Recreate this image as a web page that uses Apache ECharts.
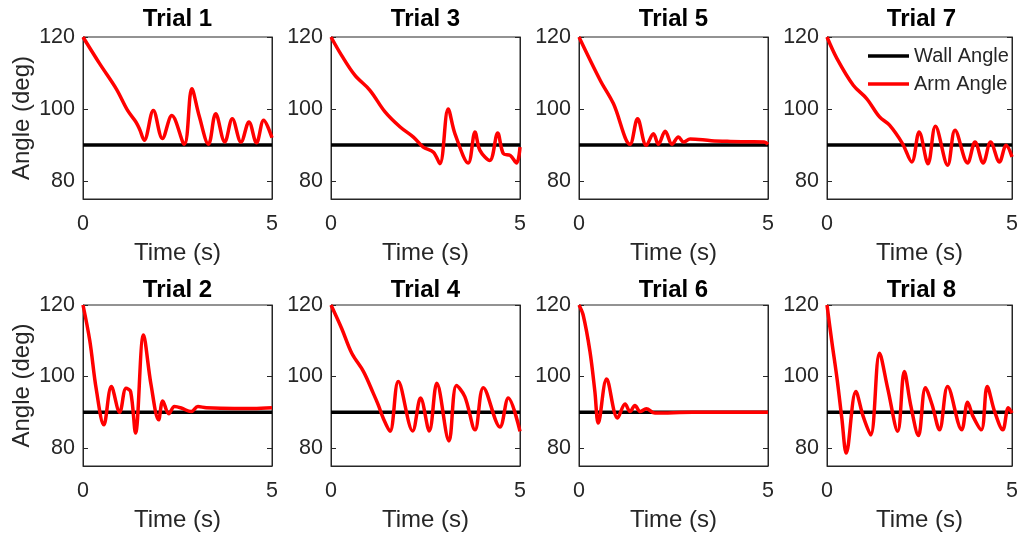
<!DOCTYPE html>
<html>
<head>
<meta charset="utf-8">
<script src="https://cdn.jsdelivr.net/npm/echarts@6/dist/echarts.min.js"></script>
<style>
html,body{margin:0;padding:0;background:#fff;}
#chart{width:1021px;height:537px;}
</style>
</head>
<body>
<div id="chart"></div>
<script>
// ---- data (time in s, angle in deg) ----
const WALL_ANGLE = 90;
const X_TICKS = [0, 5];
const Y_TICKS = [80, 100, 120];
const trialNames = ['Trial 1', 'Trial 3', 'Trial 5', 'Trial 7', 'Trial 2', 'Trial 4', 'Trial 6', 'Trial 8'];

const trial1 = [[0,120],[0.44,112.6],[0.88,105.6],[1.18,99.6],[1.4,96.4],[1.5,94.3],[1.62,91.3],[1.86,99.6],[2.1,91.8],[2.35,98.2],[2.68,90.2],[2.88,105.6],[3.07,98.2],[3.32,90.2],[3.51,98.7],[3.75,90.8],[3.95,97.3],[4.18,90.8],[4.39,96.4],[4.59,90.6],[4.78,96.9],[5,92]];
const trial3 = [[0,120],[0.28,114.9],[0.63,109.4],[1.03,105.2],[1.43,99.2],[1.83,95],[2.18,92.2],[2.44,89.4],[2.71,88],[2.88,84.8],[3.1,100],[3.28,93.1],[3.63,85],[3.81,93.6],[3.94,88.5],[4.2,85.7],[4.41,93.3],[4.56,87.6],[4.74,87.1],[4.91,85],[5,89.4]];
const trial5 = [[0,120],[0.56,108],[0.91,101.5],[1.35,90.2],[1.55,97.3],[1.78,89.9],[1.97,93.1],[2.1,90.2],[2.28,93.8],[2.46,90.2],[2.63,92.2],[2.77,90.8],[2.94,91.7],[3.5,91.2],[4.0,91.0],[4.5,90.9],[4.9,90.8],[5,90.2]];
const trial7 = [[0,120],[0.27,114],[0.71,106.6],[1.07,102.9],[1.42,97.8],[1.69,95.5],[2.04,90.4],[2.29,85.3],[2.49,93.6],[2.73,84.8],[2.93,95.2],[3.26,84.4],[3.46,94.1],[3.8,85],[4.0,90.8],[4.22,85],[4.42,90.8],[4.66,85.3],[4.84,89.9],[5,86.7]];
const trial2 = [[0,120],[0.18,110],[0.35,96.5],[0.55,86.5],[0.75,97.2],[0.97,90],[1.14,96.7],[1.26,95.8],[1.39,84.2],[1.6,111.6],[1.8,97.7],[2.0,87.9],[2.11,93.2],[2.27,89.6],[2.42,91.6],[2.6,91.2],[2.86,90.2],[3.04,91.6],[3.26,91.3],[4.0,91.1],[4.5,91.1],[5,91.3]];
const trial4 = [[0,120],[0.28,113.5],[0.55,106.5],[0.86,101.4],[1.12,95.3],[1.25,92.1],[1.38,88.4],[1.56,84.7],[1.78,98.6],[2.16,84.8],[2.37,94],[2.6,84.8],[2.8,98.1],[3.12,82],[3.32,97.5],[3.54,94.4],[3.81,85.1],[4.03,96.9],[4.47,85.9],[4.69,94],[5,84.7]];
const trial6 = [[0,120],[0.11,117.2],[0.29,107],[0.42,95.8],[0.51,87],[0.73,99.3],[1.02,88.4],[1.22,92.3],[1.35,90.2],[1.48,91.9],[1.62,90.2],[1.78,91],[2.01,89.8],[3.0,90],[4.0,90],[5,90]];
const trial8 = [[0,120],[0.13,109.8],[0.27,99.5],[0.4,88.4],[0.52,78.6],[0.78,95.8],[0.98,88.8],[1.18,83.7],[1.42,106.5],[1.64,96.7],[1.91,84.7],[2.09,101.4],[2.26,92.1],[2.47,83.5],[2.66,96.9],[2.84,92.1],[3.04,85.1],[3.26,97.2],[3.64,85.1],[3.8,92.8],[3.95,88.8],[4.17,85.1],[4.33,97.2],[4.53,90.2],[4.75,85.1],[4.9,91.3],[5,89.8]];

const trials = [trial1, trial3, trial5, trial7, trial2, trial4, trial6, trial8];

// ---- layout ----
const FONT = 'Liberation Sans, Arial, Helvetica, sans-serif';
const AX = '#262626';
const colLeft = [83, 331, 579, 827];
const plotW = 189;
const rowTop = [37, 305];
const rowH = [162, 161];
const titleTop = [7, 278.5];

const grids = [], xAxes = [], yAxes = [], series = [], titles = [];
for (let i = 0; i < 8; i++) {
  const r = Math.floor(i / 4), c = i % 4;
  grids.push({left: colLeft[c], top: rowTop[r], width: plotW, height: rowH[r],
    show: true, borderColor: AX, borderWidth: 1, backgroundColor: '#fff'});
  titles.push({text: trialNames[i], left: colLeft[c] + plotW / 2, top: titleTop[r], textAlign: 'center', padding: 0,
    textStyle: {fontFamily: FONT, fontSize: 24, fontWeight: 'bold', color: '#000'}});
  xAxes.push({type: 'value', gridIndex: i, min: X_TICKS[0], max: X_TICKS[1], interval: 5,
    name: 'Time (s)', nameLocation: 'middle', nameGap: 42,
    nameTextStyle: {fontFamily: FONT, fontSize: 24, color: AX},
    axisLine: {show: true, lineStyle: {color: AX, width: 1}},
    axisTick: {show: true, inside: true, length: 5, lineStyle: {color: AX}},
    axisLabel: {fontFamily: FONT, fontSize: 21.5, color: AX, margin: 14, showMinLabel: true, showMaxLabel: true},
    splitLine: {show: false}});
  yAxes.push({type: 'value', gridIndex: i, min: 75, max: 120, position: 'left',
    name: c === 0 ? 'Angle (deg)' : '', nameLocation: 'middle', nameGap: 49,
    nameTextStyle: {fontFamily: FONT, fontSize: 24, color: AX},
    axisLine: {show: true, lineStyle: {color: AX, width: 1}},
    axisTick: {show: true, inside: true, length: 5, lineStyle: {color: AX}, customValues: Y_TICKS},
    axisLabel: {fontFamily: FONT, fontSize: 21.5, color: AX, margin: 8, customValues: Y_TICKS},
    splitLine: {show: false}});
  yAxes.push({type: 'value', gridIndex: i, min: 75, max: 120, position: 'right',
    axisLine: {show: true, lineStyle: {color: AX, width: 1}},
    axisTick: {show: true, inside: true, length: 5, lineStyle: {color: AX}, customValues: Y_TICKS},
    axisLabel: {show: false, customValues: Y_TICKS},
    splitLine: {show: false}});
  series.push({name: 'Wall Angle', type: 'line', xAxisIndex: i, yAxisIndex: 2 * i,
    data: [[X_TICKS[0], WALL_ANGLE], [X_TICKS[1], WALL_ANGLE]],
    symbol: 'none', lineStyle: {color: '#000', width: 3.5}, itemStyle: {color: '#000'}, z: 2, animation: false});
  series.push({name: 'Arm Angle', type: 'line', xAxisIndex: i, yAxisIndex: 2 * i,
    data: trials[i], smooth: 0.35,
    symbol: 'none', lineStyle: {color: '#ff0000', width: 3.5}, itemStyle: {color: '#ff0000'}, z: 3, animation: false});
}

const chart = echarts.init(document.getElementById('chart'), null, {renderer: 'canvas'});
chart.setOption({
  animation: false,
  backgroundColor: '#fff',
  title: titles,
  legend: {data: [{name: 'Wall Angle', itemStyle: {color: '#000'}}, {name: 'Arm Angle', itemStyle: {color: '#ff0000'}}],
    icon: 'rect', orient: 'vertical', left: 868, top: 46,
    itemWidth: 41, itemHeight: 3.5, itemGap: 8, padding: 0,
    textStyle: {fontFamily: FONT, fontSize: 20, color: AX}},
  grid: grids,
  xAxis: xAxes,
  yAxis: yAxes,
  series: series
});
</script>
</body>
</html>
